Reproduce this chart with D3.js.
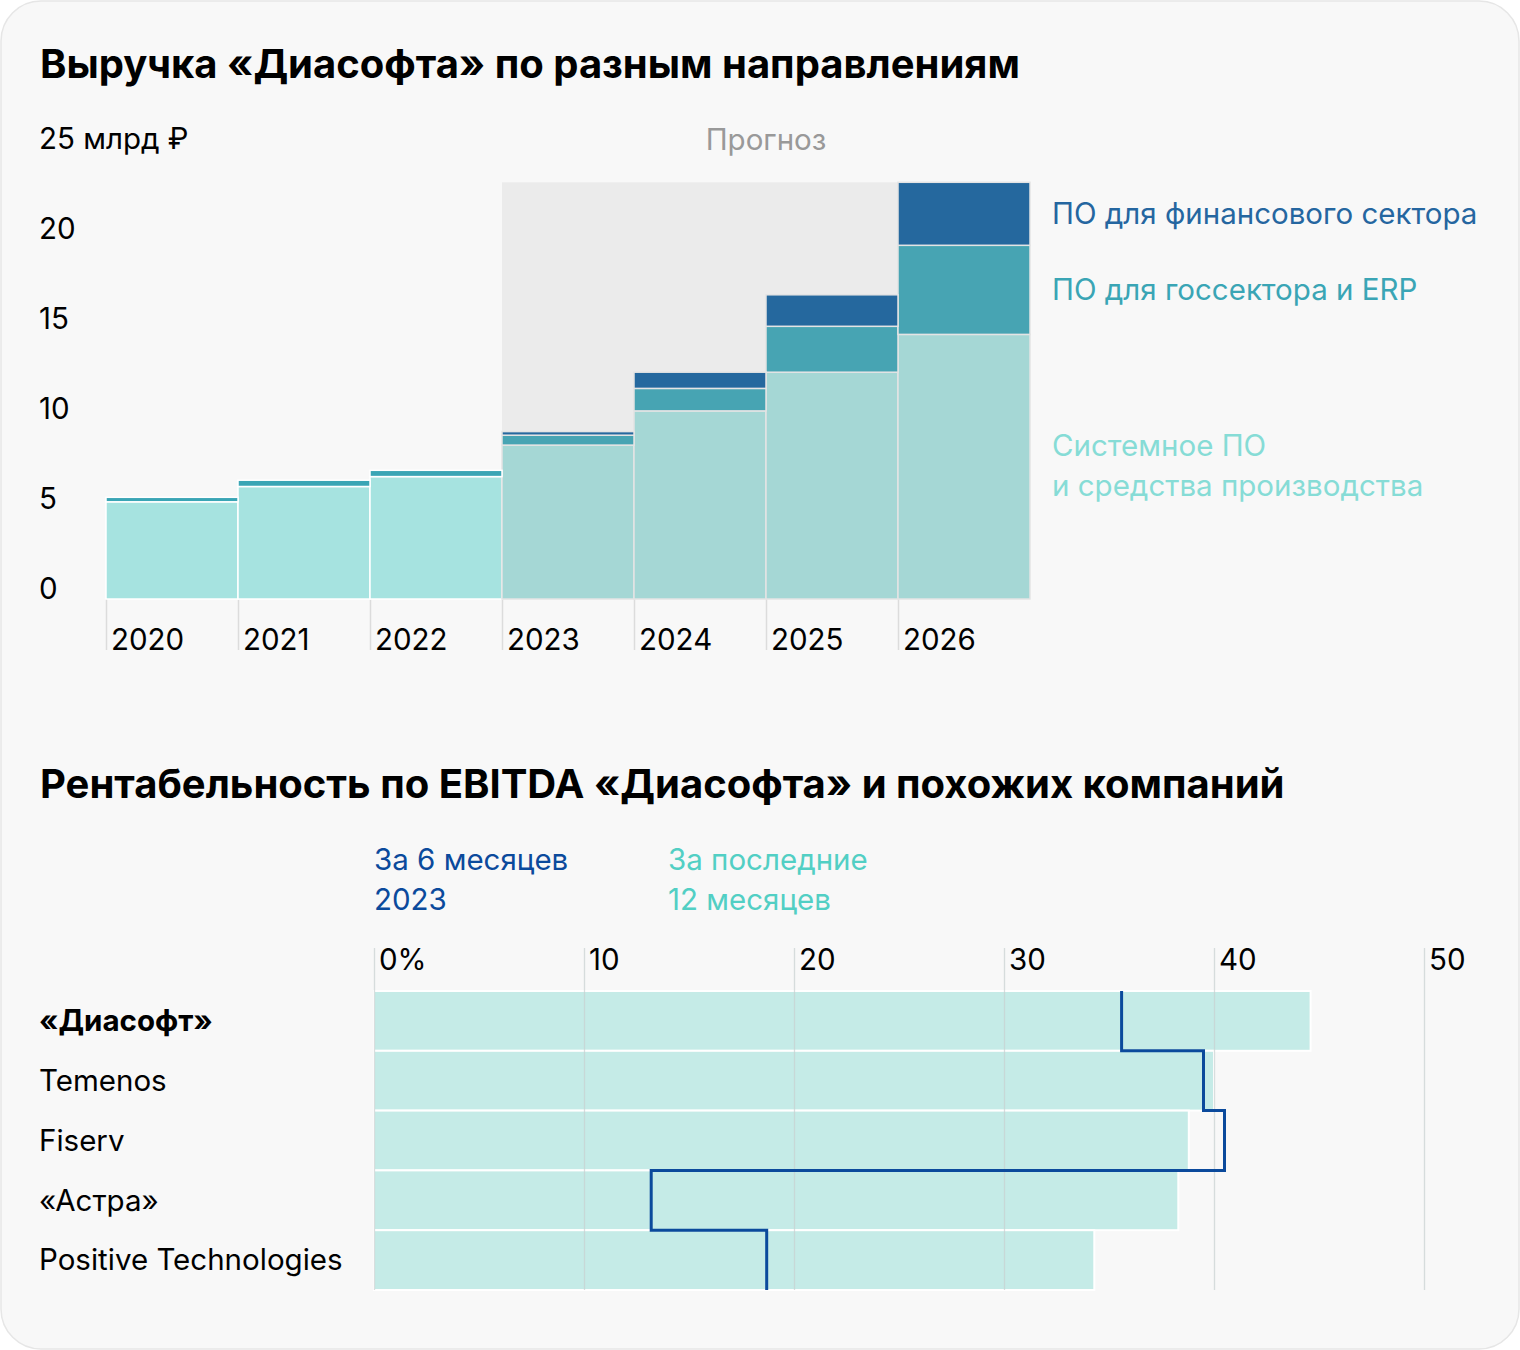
<!DOCTYPE html>
<html><head><meta charset="utf-8">
<script src="https://cdn.jsdelivr.net/npm/d3@7"></script>
<style>
html,body{margin:0;padding:0;background:#fff;}
svg text{font-family:"Inter","Roboto",sans-serif;}
</style></head>
<body>
<script>
// ---- Top chart data ----
const years = ["2020","2021","2022","2023","2024","2025","2026"];
const forecastFrom = "2023";
const systemSW = [5.4, 6.25, 6.8, 8.55, 10.45, 12.6, 14.7];
const govSW    = [0.25, 0.35, 0.35, 0.55, 1.25, 2.55, 4.95];
const finSW    = [0.0, 0.0, 0.0, 0.2, 0.9, 1.75, 3.5];
const seriesNames = ["Системное ПО и средства производства","ПО для госсектора и ERP","ПО для финансового сектора"];
const yTicks = [0,5,10,15,20,25];

// ---- Bottom chart data ----
const companies = ["«Диасофт»","Temenos","Fiserv","«Астра»","Positive Technologies"];
const ebitdaLTM = [44.6, 40.0, 38.8, 38.3, 34.3];
const ebitdaH1 = [35.6, 39.5, 40.5, 13.2, 18.7];
const xTicks = [0,10,20,30,40,50];

const W=1520,H=1350;
const svg=d3.select("body").append("svg").attr("width",W).attr("height",H);
svg.append("rect").attr("x",1).attr("y",1).attr("width",W-2).attr("height",H-2)
  .attr("rx",40).attr("fill","#f8f8f8").attr("stroke","#e6e6e6").attr("stroke-width",1.5);

const fs=29.5;
// Titles
svg.append("text").attr("x",40).attr("y",78).attr("font-size",40).attr("font-weight",700)
  .attr("fill","#000").text("Выручка «Диасофта» по разным направлениям");
svg.append("text").attr("x",40).attr("y",798).attr("font-size",40).attr("font-weight",700)
  .attr("fill","#000").text("Рентабельность по EBITDA «Диасофта» и похожих компаний");

// ---- Top chart ----
const x=d3.scaleBand().domain(years).range([106,1030]).padding(0);
const y=d3.scaleLinear().domain([0,25]).range([599,149]);
const colHist=["#a6e3e0","#3aa5b5","#25689e"];
const colFc=["#a5d7d5","#47a4b3","#25689e"];
const isFc=d=>years.indexOf(d)>=years.indexOf(forecastFrom);

// forecast background
const fcTop = d3.max(years.map((d,i)=>systemSW[i]+govSW[i]+finSW[i]));
svg.append("rect").attr("x",x(forecastFrom)).attr("y",y(fcTop))
  .attr("width",x(years[years.length-1])+x.bandwidth()-x(forecastFrom))
  .attr("height",y(0)-y(fcTop)).attr("fill","#ebebeb");
svg.append("text").attr("x",x(forecastFrom)+(x(years[years.length-1])+x.bandwidth()-x(forecastFrom))/2)
  .attr("y",140).attr("dy","0.35em").attr("text-anchor","middle").attr("font-size",fs).attr("fill","#999").text("Прогноз");

// year tick lines
const gx=svg.append("g");
years.forEach(d=>{
  gx.append("line").attr("x1",x(d)+0.5).attr("x2",x(d)+0.5).attr("y1",y(0)).attr("y2",650).attr("stroke","#dcdcdc").attr("stroke-width",1.5);
  gx.append("text").attr("x",x(d)+5).attr("y",640).attr("dy","0.35em").attr("font-size",fs).attr("fill","#000").text(d);
});
// y labels
yTicks.forEach(t=>{
  svg.append("text").attr("x",39).attr("y",y(t)-10).attr("dy","0.35em").attr("font-size",fs).attr("fill","#000")
    .text(t===25?"25 млрд ₽":t);
});

const stackData=years.map((d,i)=>({year:d,s0:systemSW[i],s1:govSW[i],s2:finSW[i]}));
const stack=d3.stack().keys(["s0","s1","s2"])(stackData);
stack.forEach((layer,li)=>{
  svg.append("g").selectAll("rect").data(layer.filter(p=>p[1]-p[0]>0)).join("rect")
    .attr("x",p=>x(p.data.year)).attr("width",x.bandwidth())
    .attr("y",p=>y(p[1])).attr("height",p=>y(p[0])-y(p[1]))
    .attr("fill",p=>isFc(p.data.year)?colFc[li]:colHist[li])
    .attr("stroke",p=>isFc(p.data.year)?"#e4e4e4":"#ffffff").attr("stroke-width",1.5);
});

// legend
const lg=[
  {t:["ПО для финансового сектора"],y:214,c:"#2566a0"},
  {t:["ПО для госсектора и ERP"],y:290,c:"#3aa5b5"},
  {t:["Системное ПО","и средства производства"],y:446,c:"#86dcd6"}
];
lg.forEach(l=>{
  const t=svg.append("text").attr("x",1052).attr("y",l.y).attr("font-size",fs).attr("fill",l.c);
  l.t.forEach((s,i)=>t.append("tspan").attr("x",1052).attr("dy",i===0?"0.35em":"40").text(s));
});

// ---- Bottom chart ----
const xb=d3.scaleLinear().domain([0,50]).range([374,1424]);
const yb=d3.scaleBand().domain(companies).range([991,1290]).padding(0);

// legend
[["За 6 месяцев","2023"],["За последние","12 месяцев"]].forEach((ls,k)=>{
  const t=svg.append("text").attr("x",k?668:374).attr("y",860).attr("font-size",fs).attr("fill",k?"#52cfc4":"#0b4a9c");
  ls.forEach((s,i)=>t.append("tspan").attr("x",k?668:374).attr("dy",i===0?"0.35em":"40").text(s));
});

svg.append("g").selectAll("rect").data(companies).join("rect")
  .attr("x",xb(0)).attr("y",d=>yb(d)).attr("width",(d,i)=>xb(ebitdaLTM[i])-xb(0)).attr("height",yb.bandwidth())
  .attr("fill","#c5ebe7").attr("stroke","#ffffff").attr("stroke-width",2);

xTicks.forEach(t=>{
  svg.append("line").attr("x1",xb(t)+0.5).attr("x2",xb(t)+0.5).attr("y1",948).attr("y2",1290)
    .attr("stroke","#c8d0d0").attr("stroke-opacity",0.7).attr("stroke-width",1.3);
  svg.append("text").attr("x",xb(t)+5).attr("y",960).attr("dy","0.35em").attr("font-size",fs).attr("fill","#000")
    .text(t===0?"0%":t);
});

companies.forEach((c,i)=>{
  svg.append("text").attr("x",39).attr("y",yb(c)+yb.bandwidth()/2).attr("dy","0.35em").attr("font-size",fs)
    .attr("font-weight",i===0?700:400).attr("fill","#000").text(c);
});

const pts=[];
companies.forEach((c,i)=>{pts.push([xb(ebitdaH1[i]),yb(c)]);pts.push([xb(ebitdaH1[i]),yb(c)+yb.bandwidth()]);});
svg.append("path").attr("d",d3.line()(pts)).attr("fill","none").attr("stroke","#0b4a9c").attr("stroke-width",3);
</script>
</body></html>
